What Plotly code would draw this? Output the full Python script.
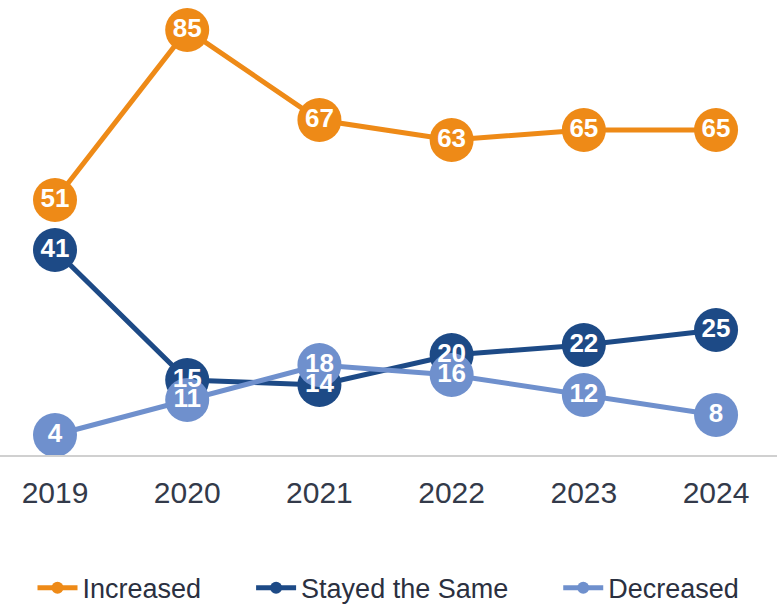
import plotly.graph_objects as go

years = ["2019", "2020", "2021", "2022", "2023", "2024"]
increased = [51, 85, 67, 63, 65, 65]
stayed_same = [41, 15, 14, 20, 22, 25]
decreased = [4, 11, 18, 16, 12, 8]

series = [
    ("Increased", increased, "#EE8A17"),
    ("Stayed the Same", stayed_same, "#1D4A86"),
    ("Decreased", decreased, "#6F90CD"),
]

x_idx = list(range(len(years)))
fig = go.Figure()

# lines with large round markers
for name, vals, color in series:
    fig.add_trace(go.Scatter(
        x=x_idx, y=vals, mode="lines+markers", name=name,
        line=dict(color=color, width=5),
        marker=dict(size=44, color=color),
        showlegend=False, hoverinfo="skip",
    ))

# value labels on top of every marker
for name, vals, color in series:
    fig.add_trace(go.Scatter(
        x=x_idx, y=vals, mode="text", text=[str(v) for v in vals],
        textposition="middle center",
        textfont=dict(family="Liberation Sans, Arial", size=26, color="white", weight="bold"),
        showlegend=False, hoverinfo="skip",
    ))

# compact legend entries, padded apart
pad = "\u00a0" * 6
for i, (name, vals, color) in enumerate(series):
    label = name + (pad if i < len(series) - 1 else "")
    fig.add_trace(go.Scatter(
        x=[None], y=[None], mode="lines+markers", name=label,
        line=dict(color=color, width=5),
        marker=dict(size=12, color=color),
    ))

fig.update_layout(
    width=777, height=606,
    margin=dict(l=0, r=0, t=5, b=151, autoexpand=False),
    paper_bgcolor="white", plot_bgcolor="white",
    font=dict(family="Liberation Sans, Arial", color="#333a4a"),
    legend=dict(orientation="h", x=0.5, xanchor="center", y=-0.296, yanchor="middle",
                font=dict(size=27, color="#2b3040"), itemwidth=40),
)
fig.update_xaxes(
    range=[-0.416, 5.461], tickmode="array", tickvals=x_idx, ticktext=years,
    showgrid=False, zeroline=False, showline=True, linecolor="#d0d0d0", linewidth=2,
    tickfont=dict(size=30, color="#333a4a"), ticks="", ticklabelstandoff=10,
)
fig.update_yaxes(range=[0, 90], showgrid=False, zeroline=False, showticklabels=False,
                 showline=False)

fig.write_html("out.html")
